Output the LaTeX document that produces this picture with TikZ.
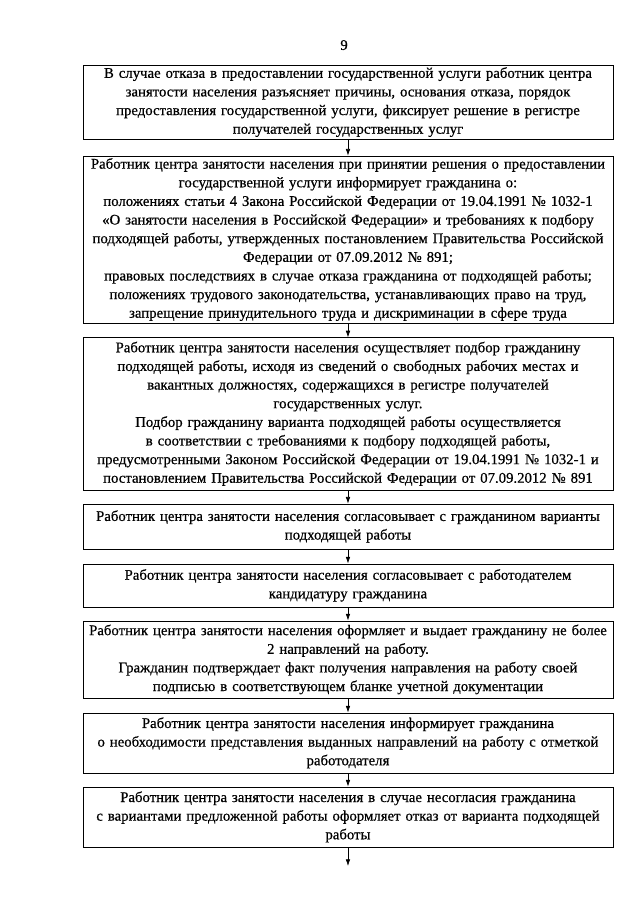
\documentclass[tikz,border=0pt]{standalone}
\usepackage{fontspec}
\setmainfont{Liberation Serif}[FakeBold=0.6]
\usetikzlibrary{arrows.meta}

\begin{document}
\begin{tikzpicture}[
  stage/.style={draw, line width=0.6pt, minimum width=17.39cm, text width=17.2cm,
    align=center, inner sep=0pt, font=\fontsize{13.8}{17.4}\selectfont},
  arrow/.style={-{Latex[length=2.2mm, width=1.5mm]}, line width=0.6pt},
]
\useasboundingbox (0,0) rectangle (21,29.7);

% === PAGE NUMBER ===
\node (page) at (11.29, 28.22) {\fontsize{13.8}{16}\selectfont 9};

% === STAGES ===
\node[stage, minimum height=2.43cm] (refusal) at (11.42, 26.35)
  {В случае отказа в предоставлении государственной услуги работник центра\\
   занятости населения разъясняет причины, основания отказа, порядок\\
   предоставления государственной услуги, фиксирует решение в регистре\\
   получателей государственных услуг};

\node[stage, minimum height=5.48cm] (inform) at (11.42, 21.84)
  {Работник центра занятости населения при принятии решения о предоставлении\\
   государственной услуги информирует гражданина о:\\
   положениях статьи 4 Закона Российской Федерации от 19.04.1991 № 1032-1\\
   «О занятости населения в Российской Федерации» и требованиях к подбору\\
   подходящей работы, утвержденных постановлением Правительства Российской\\
   Федерации от 07.09.2012 № 891;\\
   правовых последствиях в случае отказа гражданина от подходящей работы;\\
   положениях трудового законодательства, устанавливающих право на труд,\\
   запрещение принудительного труда и дискриминации в сфере труда};

\node[stage, minimum height=4.99cm] (select) at (11.42, 16.12)
  {Работник центра занятости населения осуществляет подбор гражданину\\
   подходящей работы, исходя из сведений о свободных рабочих местах и\\
   вакантных должностях, содержащихся в регистре получателей\\
   государственных услуг.\\
   Подбор гражданину варианта подходящей работы осуществляется\\
   в соответствии с требованиями к подбору подходящей работы,\\
   предусмотренными Законом Российской Федерации от 19.04.1991 № 1032-1 и\\
   постановлением Правительства Российской Федерации от 07.09.2012 № 891};

\node[stage, minimum height=1.48cm] (agreecit) at (11.42, 12.42)
  {Работник центра занятости населения согласовывает с гражданином варианты\\
   подходящей работы};

\node[stage, minimum height=1.41cm] (agreeemp) at (11.42, 10.49)
  {Работник центра занятости населения согласовывает с работодателем\\
   кандидатуру гражданина};

\node[stage, minimum height=2.53cm] (issue) at (11.42, 8.06)
  {Работник центра занятости населения оформляет и выдает гражданину не более\\
   2 направлений на работу.\\
   Гражданин подтверждает факт получения направления на работу своей\\
   подписью в соответствующем бланке учетной документации};

\node[stage, minimum height=1.97cm] (mark) at (11.42, 5.32)
  {Работник центра занятости населения информирует гражданина\\
   о необходимости представления выданных направлений на работу с отметкой\\
   работодателя};

\node[stage, minimum height=1.97cm] (decline) at (11.42, 2.89)
  {Работник центра занятости населения в случае несогласия гражданина\\
   с вариантами предложенной работы оформляет отказ от варианта подходящей\\
   работы};

\coordinate (next) at (11.42, 1.28);

% === FLOW ===
\draw[arrow] (refusal) -- (inform);
\draw[arrow] (inform) -- (select);
\draw[arrow] (select) -- (agreecit);
\draw[arrow] (agreecit) -- (agreeemp);
\draw[arrow] (agreeemp) -- (issue);
\draw[arrow] (issue) -- (mark);
\draw[arrow] (mark) -- (decline);
\draw[arrow] (decline) -- (next);
\end{tikzpicture}
\end{document}
